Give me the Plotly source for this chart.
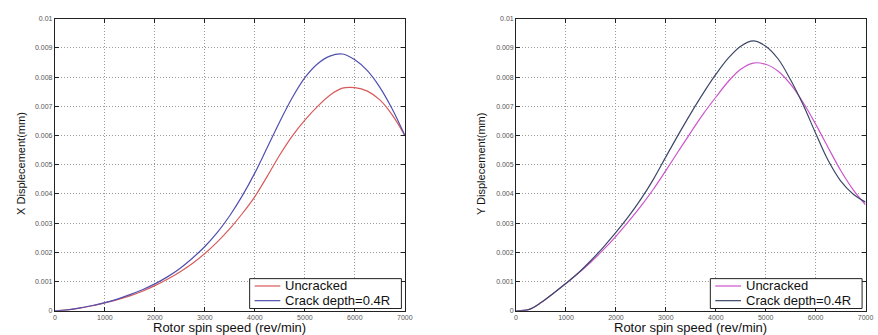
import plotly.graph_objects as go

# Canvas size in pixels
W, H = 878, 335

# Rotor spin speed samples (rev/min)
speed = [0, 250, 500, 750, 1000, 1250, 1500, 1750, 2000, 2250, 2500, 2750,
         3000, 3250, 3500, 3750, 4000, 4250, 4500, 4750, 5000, 5250, 5500,
         5750, 6000, 6250, 6500, 6750, 7000]

# X displacement (mm)
x_uncracked = [0, 0.00003, 0.00009, 0.00017, 0.00027, 0.00038, 0.00051, 0.00067,
               0.00086, 0.00108, 0.00133, 0.00162, 0.00196, 0.00236, 0.00281,
               0.00333, 0.00391, 0.00461, 0.00534, 0.00599, 0.00653, 0.00699,
               0.00738, 0.00762, 0.00764, 0.00752, 0.00722, 0.0067, 0.006]
x_cracked = [0, 0.00003, 0.0001, 0.00018, 0.00028, 0.0004, 0.00055, 0.00072,
             0.00092, 0.00116, 0.00145, 0.0018, 0.0022, 0.00268, 0.00326,
             0.00394, 0.00472, 0.0056, 0.00648, 0.0073, 0.00798, 0.00845,
             0.00872, 0.00879, 0.00859, 0.00822, 0.00765, 0.0069, 0.006]

# Y displacement (mm)
y_uncracked = [0, 0.00004, 0.00028, 0.0006, 0.00093, 0.00129, 0.00167, 0.00209,
               0.00255, 0.00305, 0.00358, 0.00416, 0.0048, 0.00546, 0.00611,
               0.00674, 0.00731, 0.00785, 0.00827, 0.00848, 0.00844, 0.0082,
               0.00775, 0.00713, 0.00639, 0.00559, 0.00481, 0.00415, 0.00363]
y_cracked = [0, 0.00004, 0.00028, 0.0006, 0.00094, 0.0013, 0.00172, 0.00218,
             0.00268, 0.00322, 0.00382, 0.0045, 0.00527, 0.00603, 0.00676,
             0.00745, 0.00809, 0.00865, 0.00906, 0.00924, 0.00906, 0.00862,
             0.0079, 0.00705, 0.00608, 0.00515, 0.00445, 0.004, 0.00372]

x_tick_vals = [0, 1000, 2000, 3000, 4000, 5000, 6000, 7000]
y_tick_vals = [0, 0.001, 0.002, 0.003, 0.004, 0.005, 0.006, 0.007, 0.008, 0.009, 0.01]
y_tick_text = ["0", "0.001", "0.002", "0.003", "0.004", "0.005", "0.006",
               "0.007", "0.008", "0.009", "0.01"]

legend_labels = ["Uncracked", "Crack depth=0.4R"]
x_title = "Rotor spin speed (rev/min)"
y_titles = ["X Displecement(mm)", "Y Displecement(mm)"]

RED = "#d85a5a"
BLUE = "#5050b0"
PINK = "#cc55cc"
DARK = "#3c4868"
FONT = "Arial, Liberation Sans, sans-serif"


def px(x):
    return x / W


def py(y):
    return 1 - y / H


fig = go.Figure()

panels = [
    dict(ax="x", ay="y", series=[x_uncracked, x_cracked], colors=[RED, BLUE],
         left=53.5, right=407.5, ytitle=y_titles[0], ytitle_x=18.5),
    dict(ax="x2", ay="y2", series=[y_uncracked, y_cracked], colors=[PINK, DARK],
         left=520, right=873.5, ytitle=y_titles[1], ytitle_x=484),
]

top, bottom = 15, 313.3
annotations = []
shapes = []

for i, p in enumerate(panels):
    for vals, col, lab in zip(p["series"], p["colors"], legend_labels):
        fig.add_trace(go.Scatter(
            x=speed, y=vals, mode="lines", name=lab, showlegend=False,
            line=dict(color=col, width=1.2, shape="spline", smoothing=1.0),
            xaxis=p["ax"], yaxis=p["ay"]))

    suffix = "" if i == 0 else str(i + 1)
    common = dict(showline=True, linecolor="#222", linewidth=1, mirror="ticks",
                  ticks="inside", ticklen=4, tickcolor="#222",
                  showgrid=True, gridcolor="#9a9a9a", griddash="1px,2px",
                  gridwidth=1, zeroline=False,
                  tickfont=dict(family=FONT, size=7, color="#555"))
    fig.update_layout(**{
        "xaxis" + suffix: dict(domain=[px(p["left"]), px(p["right"])],
                               anchor="y" + suffix, range=[0, 7000],
                               tickvals=x_tick_vals, **common),
        "yaxis" + suffix: dict(domain=[py(bottom), py(top)],
                               anchor="x" + suffix, range=[0, 0.01],
                               tickvals=y_tick_vals, ticktext=y_tick_text,
                               **common),
    })

    cx = (p["left"] + p["right"]) / 2
    annotations.append(dict(text=x_title, x=px(cx), y=py(330.5), xref="paper",
                            yref="paper", xanchor="center", yanchor="middle",
                            showarrow=False,
                            font=dict(family=FONT, size=13, color="#111")))
    annotations.append(dict(text=p["ytitle"], x=px(p["ytitle_x"]), y=py(163),
                            xref="paper", yref="paper", textangle=-90,
                            xanchor="center", yanchor="middle", showarrow=False,
                            font=dict(family=FONT, size=11, color="#111")))

    # legend box in the lower right corner of each panel
    bx0 = p["right"] - 157
    bx1 = p["right"] - 3.5
    shapes.append(dict(type="rect", xref="paper", yref="paper",
                       x0=px(bx0), x1=px(bx1), y0=py(311), y1=py(280.5),
                       line=dict(color="#222", width=1), fillcolor="white",
                       layer="above"))
    for row, (col, lab) in enumerate(zip(p["colors"], legend_labels)):
        ly = 288 + 15 * row
        shapes.append(dict(type="line", xref="paper", yref="paper",
                           x0=px(bx0 + 5), x1=px(bx0 + 31), y0=py(ly), y1=py(ly),
                           line=dict(color=col, width=1.2), layer="above"))
        annotations.append(dict(text=lab, x=px(bx0 + 34), y=py(ly), xref="paper",
                                yref="paper", xanchor="left", yanchor="middle",
                                showarrow=False,
                                font=dict(family=FONT, size=13, color="#111")))

fig.update_layout(width=W, height=H, margin=dict(l=0, r=0, t=0, b=0),
                  paper_bgcolor="white", plot_bgcolor="white",
                  annotations=annotations, shapes=shapes, showlegend=False)

fig.write_html("out.html")
